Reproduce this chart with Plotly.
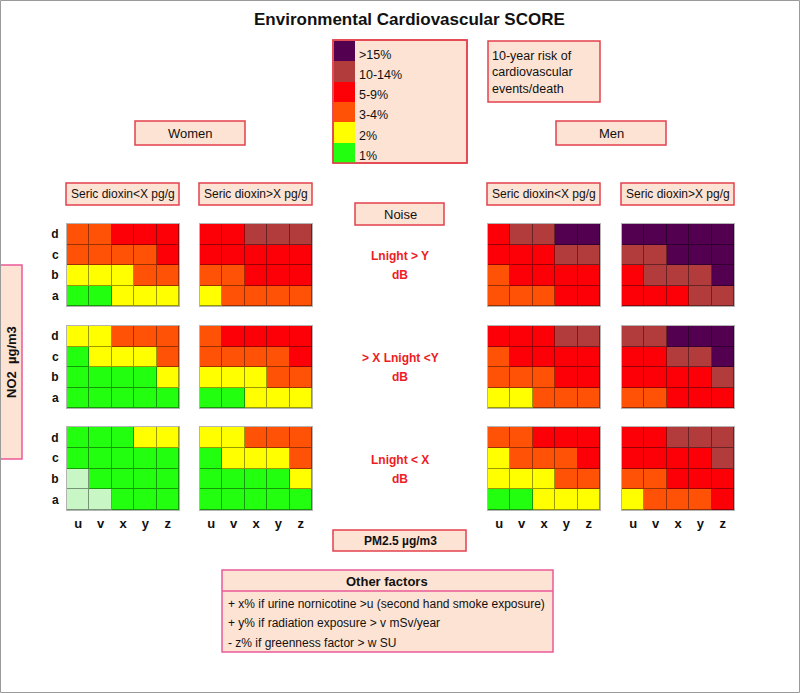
import plotly.graph_objects as go

# ---------------- data ----------------
PM25_LEVELS = ['u', 'v', 'x', 'y', 'z']          # columns (PM2.5)
NO2_LEVELS = ['d', 'c', 'b', 'a']                # rows, top to bottom (NO2)

# risk class codes: 0 = very low (pale green), 1 = 1%, 2 = 2%, 3 = 3-4%, 4 = 5-9%, 5 = 10-14%, 6 = >15%
# rows listed d, c, b, a ; columns u, v, x, y, z
women_dioxin_low_noise_high = [[3, 3, 4, 4, 4], [3, 3, 3, 3, 4], [2, 2, 2, 3, 3], [1, 1, 2, 2, 2]]
women_dioxin_high_noise_high = [[4, 4, 5, 5, 5], [4, 4, 4, 4, 4], [3, 3, 4, 4, 4], [2, 3, 3, 3, 3]]
women_dioxin_low_noise_mid = [[2, 2, 3, 3, 3], [1, 2, 2, 2, 3], [1, 1, 1, 1, 2], [1, 1, 1, 1, 1]]
women_dioxin_high_noise_mid = [[3, 4, 4, 4, 4], [3, 3, 3, 3, 4], [2, 2, 2, 3, 3], [1, 1, 2, 2, 2]]
women_dioxin_low_noise_low = [[1, 1, 1, 2, 2], [1, 1, 1, 1, 1], [0, 1, 1, 1, 1], [0, 0, 1, 1, 1]]
women_dioxin_high_noise_low = [[2, 2, 3, 3, 3], [1, 2, 2, 2, 3], [1, 1, 1, 1, 2], [1, 1, 1, 1, 1]]
men_dioxin_low_noise_high = [[4, 5, 5, 6, 6], [4, 4, 4, 5, 5], [3, 4, 4, 4, 4], [3, 3, 3, 4, 4]]
men_dioxin_high_noise_high = [[6, 6, 6, 6, 6], [5, 5, 6, 6, 6], [4, 5, 5, 5, 6], [4, 4, 4, 5, 5]]
men_dioxin_low_noise_mid = [[4, 4, 4, 5, 5], [3, 4, 4, 4, 4], [3, 3, 3, 4, 4], [2, 2, 3, 3, 3]]
men_dioxin_high_noise_mid = [[5, 5, 6, 6, 6], [4, 4, 5, 5, 6], [4, 4, 4, 4, 5], [3, 3, 4, 4, 4]]
men_dioxin_low_noise_low = [[3, 3, 4, 4, 4], [2, 3, 3, 3, 4], [2, 2, 2, 3, 3], [1, 1, 2, 2, 2]]
men_dioxin_high_noise_low = [[4, 4, 5, 5, 5], [4, 4, 4, 4, 5], [3, 3, 4, 4, 4], [2, 3, 3, 3, 4]]

PANELS = [
    [women_dioxin_low_noise_high, women_dioxin_high_noise_high, men_dioxin_low_noise_high, men_dioxin_high_noise_high],
    [women_dioxin_low_noise_mid, women_dioxin_high_noise_mid, men_dioxin_low_noise_mid, men_dioxin_high_noise_mid],
    [women_dioxin_low_noise_low, women_dioxin_high_noise_low, men_dioxin_low_noise_low, men_dioxin_high_noise_low],
]

LEGEND_CODES = [6, 5, 4, 3, 2, 1]
LEGEND_LABELS = ['>15%', '10-14%', '5-9%', '3-4%', '2%', '1%']

SEX_LABELS = ['Women', 'Men']
DIOXIN_LABELS = ['Seric dioxin<X pg/g', 'Seric dioxin>X pg/g', 'Seric dioxin<X pg/g', 'Seric dioxin>X pg/g']
NOISE_LABELS = [['Lnight > Y', 'dB'], ['> X Lnight <Y', 'dB'], ['Lnight < X', 'dB']]
OTHER_FACTORS = [
    '+ x% if urine nornicotine >u (second hand smoke exposure)',
    '+ y% if radiation exposure > v mSv/year',
    '- z% if greenness factor > w SU',
]

# ---------------- style ----------------
W, H = 800, 693
FONT = 'Liberation Sans, Arial, sans-serif'
LEVEL_COLORS = ['#c8f7c5', '#22ff0f', '#ffff00', '#ff5207', '#fd0007', '#b23b3c', '#530050']
BOX_FILL = '#fde3d3'
BOX_RED = '#e2424e'
BOX_PINK = '#ea5a98'


def darken(hx, f=0.6):
    hx = hx.lstrip('#')
    r, g, b = (int(hx[i:i + 2], 16) for i in (0, 2, 4))
    return 'rgb(%d,%d,%d)' % (r * f, g * f, b * f)


def discrete_scale(colors):
    n = len(colors)
    cs = []
    for i, c in enumerate(colors):
        cs.append([i / n, c])
        cs.append([(i + 1) / n, c])
    return cs


SCALE = discrete_scale(LEVEL_COLORS)
DARK_SCALE = discrete_scale([darken(c) for c in LEVEL_COLORS])


def X(p):
    return p / W


def Y(p):
    return 1 - p / H


COLS_PX = [(67, 179), (200, 312), (488, 600), (622, 734)]
ROWS_PX = [(224, 306), (326, 408), (427, 510)]

fig = go.Figure()
layout = {}
idx = 0
for r, (y0, y1) in enumerate(ROWS_PX):
    for c, (x0, x1) in enumerate(COLS_PX):
        idx += 1
        sfx = '' if idx == 1 else str(idx)
        z = PANELS[r][c]
        for dark in (True, False):
            fig.add_trace(go.Heatmap(
                z=z, x=PM25_LEVELS, y=NO2_LEVELS,
                colorscale=DARK_SCALE if dark else SCALE,
                zmin=-0.5, zmax=6.5, showscale=False,
                xgap=0 if dark else 1, ygap=0 if dark else 1,
                hoverinfo='skip', xaxis='x' + sfx, yaxis='y' + sfx))
        layout['xaxis' + sfx] = dict(
            domain=[X(x0), X(x1)], anchor='y' + sfx, showgrid=False, zeroline=False,
            showline=True, mirror=True, linecolor='#b4b4b4', linewidth=1, ticks='',
            categoryorder='array', categoryarray=PM25_LEVELS,
            showticklabels=(r == 2), ticklabelstandoff=1,
            tickfont=dict(family=FONT, size=13, color='#111', weight='bold'), fixedrange=True)
        layout['yaxis' + sfx] = dict(
            domain=[Y(y1), Y(y0)], anchor='x' + sfx, showgrid=False, zeroline=False,
            showline=True, mirror=True, linecolor='#b4b4b4', linewidth=1, ticks='',
            categoryorder='array', categoryarray=NO2_LEVELS, autorange='reversed',
            showticklabels=(c == 0), ticklabelstandoff=5,
            tickfont=dict(family=FONT, size=12, color='#111', weight='bold'), fixedrange=True)

# legend swatches as a heatmap
idx += 1
sfx = str(idx)
fig.add_trace(go.Heatmap(
    z=[[v] for v in LEGEND_CODES], x=[0], y=LEGEND_LABELS,
    colorscale=SCALE, zmin=-0.5, zmax=6.5, showscale=False,
    hoverinfo='skip', xaxis='x' + sfx, yaxis='y' + sfx))
layout['xaxis' + sfx] = dict(domain=[X(334), X(355)], anchor='y' + sfx, visible=False, fixedrange=True)
layout['yaxis' + sfx] = dict(domain=[Y(163), Y(41)], anchor='x' + sfx, visible=False,
                             autorange='reversed', categoryorder='array',
                             categoryarray=LEGEND_LABELS, fixedrange=True)

shapes = []


def box(x0, y0, x1, y1, line=BOX_RED, fill=BOX_FILL, layer='below', width=1.5):
    shapes.append(dict(type='rect', xref='paper', yref='paper', x0=X(x0), x1=X(x1), y0=Y(y1), y1=Y(y0),
                       line=dict(color=line, width=width), fillcolor=fill, layer=layer))


box(333, 40, 467, 163)
box(333, 40, 467, 163, fill='rgba(0,0,0,0)', layer='above')
box(488, 41, 600, 102)
box(135, 121, 245, 145)
box(556, 121, 666, 145)
for (x0, x1) in COLS_PX:
    box(x0 - 1, 183, x1, 205)
box(355, 203, 444, 225)
box(-3, 265, 22, 459, line=BOX_PINK)
box(333, 530, 466, 551)
box(222, 570, 553, 652, line=BOX_PINK)
shapes.append(dict(type='line', xref='paper', yref='paper', x0=X(222), x1=X(553), y0=Y(591), y1=Y(591),
                   line=dict(color=BOX_PINK, width=1.5)))
# outer frame
shapes.append(dict(type='rect', xref='paper', yref='paper', x0=X(0.5), x1=X(799.5), y0=Y(692.5), y1=Y(0.5),
                   line=dict(color='#9a9a9a', width=1), fillcolor='rgba(0,0,0,0)', layer='above'))

ann = []


def text(x, y, s, size=12, bold=False, color='#111', xanchor='center', align='center', angle=0):
    ann.append(dict(xref='paper', yref='paper', x=X(x), y=Y(y), text=s, showarrow=False,
                    xanchor=xanchor, yanchor='middle', align=align, textangle=angle,
                    font=dict(family=FONT, size=size, color=color, weight='bold' if bold else 'normal')))


text(410, 20, 'Environmental Cardiovascular SCORE', size=17, bold=True)
legend_label_y = [55, 75, 95, 115, 136, 156]
for lab, yy in zip(LEGEND_LABELS, legend_label_y):
    text(357, yy, lab, size=12.5, xanchor='left', align='left')
text(490, 72, '10-year risk of<br>cardiovascular<br>events/death', size=12.5, xanchor='left', align='left')
text(190, 133, SEX_LABELS[0], size=13)
text(611, 133, SEX_LABELS[1], size=13)
for lab, (x0, x1) in zip(DIOXIN_LABELS, COLS_PX):
    text((x0 + x1) / 2, 194, lab, size=12)
text(400, 214, 'Noise', size=13)
noise_y = [(256, 275), (358, 377), (460, 479)]
for (l1, l2), (ya, yb) in zip(NOISE_LABELS, noise_y):
    text(400, ya, l1, size=12, bold=True, color='#ee1c24')
    text(400, yb, l2, size=12, bold=True, color='#ee1c24')
text(11, 362, 'NO2\u00a0\u00a0µg/m3', size=13, bold=True, angle=-90)
text(400, 541, 'PM2.5 µg/m3', size=12, bold=True)
text(387, 581, 'Other factors', size=13, bold=True)
for s, yy in zip(OTHER_FACTORS, [604, 623, 643]):
    text(226, yy, s, size=12, xanchor='left', align='left')

fig.update_layout(
    width=W, height=H, margin=dict(l=0, r=0, t=0, b=0),
    paper_bgcolor='white', plot_bgcolor='rgba(0,0,0,0)',
    shapes=shapes, annotations=ann, showlegend=False, **layout)

fig.write_html('out.html', config={'displayModeBar': False},
               post_script="document.body.style.margin='0';document.body.style.overflow='hidden';")
